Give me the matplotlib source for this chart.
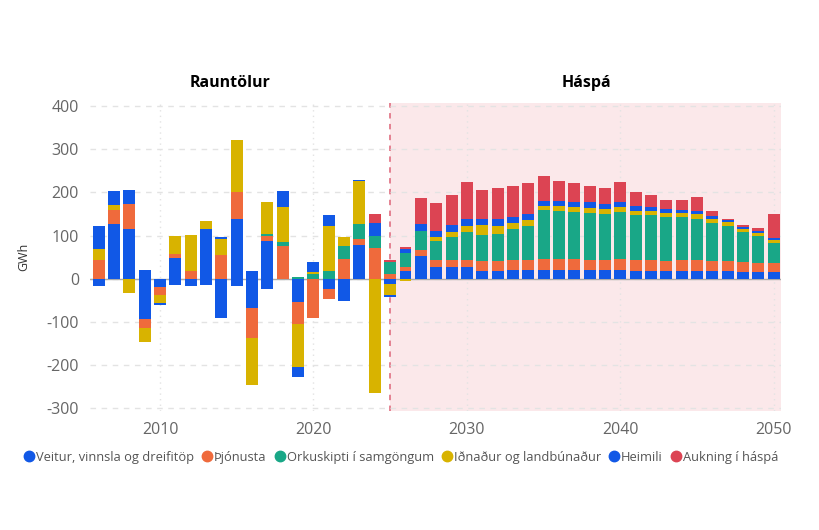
import matplotlib.pyplot as plt
import numpy as np

plt.rcParams['font.family'] = ['Open Sans', 'DejaVu Sans']
plt.rcParams['axes.unicode_minus'] = False

ar = np.arange(2006, 2051)

# GWh breyting milli ára, 2006-2024 rauntölur, 2025-2050 háspá
veitur = [-18, 126, 115, -93, -20, 47, -16, 115, -91, 138, -68, 88, 0, -55, 0, -24, -51, 79, 0,
          -12, 17, 52, 26, 27, 26, 17, 17, 19, 19, 19, 19, 19, 19, 19, 21, 18, 18, 18, 18, 18, 17, 18, 15, 15, 15]
thjonusta = [44, 33, 58, -22, -17, 11, 17, 0, 56, 64, -69, 11, 76, -49, -92, -24, 46, 12, 72,
             12, 10, 15, 18, 17, 18, 25, 25, 25, 25, 26, 26, 26, 25, 25, 25, 25, 25, 24, 25, 25, 23, 23, 24, 22, 22]
orkuskipti = [0, 0, 0, 0, 0, 0, 0, 0, 0, 0, 0, 5, 8, 5, 12, 17, 30, 35, 28,
              27, 32, 44, 44, 52, 65, 60, 62, 72, 79, 114, 112, 110, 109, 106, 108, 105, 105, 102, 99, 96, 89, 82, 69, 61, 45]
idnadur = [26, 13, -33, -32, -19, 40, 85, 19, 35, 119, -109, 75, 83, -100, 3, 105, 21, 100, -266,
           -27, -5, 0, 8, 13, 14, 22, 19, 13, 14, 10, 12, 12, 12, 11, 12, 10, 10, 9, 11, 12, 9, 9, 8, 8, 8]
heimili = [53, 31, 33, 21, -4, -15, 0, -15, 5, -18, 18, -24, 37, -23, 24, 25, 0, 3, 30,
           -4, 10, 16, 15, 15, 15, 15, 15, 13, 13, 12, 11, 12, 12, 12, 12, 10, 8, 9, 6, 7, 8, 5, 5, 5, 5]
aukning = [0, 0, 0, 0, 0, 0, 0, 0, 0, 0, 0, 0, 0, 0, 0, 0, 0, 0, 21,
           5, 4, 61, 65, 71, 86, 66, 72, 74, 73, 57, 46, 42, 38, 37, 46, 34, 27, 20, 23, 31, 12, 2, 4, 6, 56]

flokkar = ["Veitur, vinnsla og dreifitöp", "Þjónusta", "Orkuskipti í samgöngum",
           "Iðnaður og landbúnaður", "Heimili", "Aukning í háspá"]
litir = ["#1158E6", "#EF6A3C", "#19A787", "#D8B300", "#1158E6", "#DC4453"]
gogn = [veitur, thjonusta, orkuskipti, idnadur, heimili, aukning]

fig = plt.figure(figsize=(8.2, 5.3), dpi=100)
ax = fig.add_axes([0.110, 0.2245, 0.842, 0.5815])

# háspá svæði
ax.axvspan(2025, 2051, color="#FBE8EA", zorder=0, lw=0)
ax.axvline(2025, color="#E2798A", ls=(0, (3, 3)), lw=1.3, zorder=1)

upp = np.zeros(len(ar))
nidur = np.zeros(len(ar))
for nafn, litur, g in zip(flokkar, litir, gogn):
    g = np.array(g, dtype=float)
    botn = np.where(g >= 0, upp, nidur)
    ax.bar(ar, g, bottom=botn, width=0.78, color=litur, label=nafn, zorder=3, lw=0)
    upp = upp + np.where(g > 0, g, 0)
    nidur = nidur + np.where(g < 0, g, 0)

ax.axhline(0, color="#AAAAAA", lw=1, zorder=2)
ax.set_xlim(2005.45, 2050.45)
ax.set_ylim(-307, 408)
ax.set_yticks(np.arange(-300, 401, 100))
ax.set_xticks([2010, 2020, 2030, 2040, 2050])
ax.grid(axis="y", color="#E3E3E3", ls=(0, (4, 4)), lw=1, zorder=1)
ax.grid(axis="x", color="#E3E3E3", ls=(0, (1, 3)), lw=1, zorder=1)
for s in ax.spines.values():
    s.set_visible(False)
ax.tick_params(length=0, labelsize=11.5, labelcolor="#666666", pad=8)
ax.set_ylabel("GWh", fontsize=9, color="#333333", labelpad=12)

fig.text(0.28, 0.843, "Rauntölur", ha="center", va="center", fontsize=11.5, fontweight="bold")
fig.text(0.715, 0.843, "Háspá", ha="center", va="center", fontsize=11.5, fontweight="bold")

handles = [plt.Line2D([], [], marker="o", ls="", color=c, markersize=7.5) for c in litir]
leg = fig.legend(handles, flokkar, loc="center", bbox_to_anchor=(0.488, 0.137), ncol=6,
                 frameon=False, fontsize=9.3, handletextpad=0.0, columnspacing=0.45,
                 handlelength=1.1)
for t in leg.get_texts():
    t.set_color("#555555")

fig.savefig("out.png", dpi=100)
